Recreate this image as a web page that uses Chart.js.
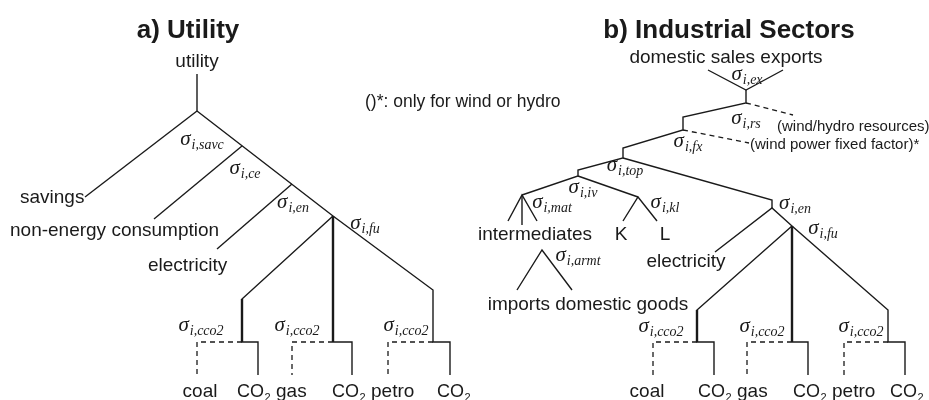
<!DOCTYPE html>
<html><head><meta charset="utf-8">
<script src="https://cdn.jsdelivr.net/npm/chart.js@4.4.1/dist/chart.umd.min.js"></script>
<style>html,body{margin:0;padding:0;background:#fff;overflow:hidden}#wrap{width:929px;height:400px}</style>
</head><body><div id="wrap"><canvas id="c" width="929" height="400"></canvas></div>
<script>
// ---- Diagram data: nested CES trees, node coordinates in diagram units (x 0..929, y 0..400 downward)
// Panel a) Utility
const utilitySolid = [
  [[197,74],[197,111]],
  [[197,111],[85,197]],
  [[197,111],[333,216],[433,290],[433,342],[450,342],[450,375]],
  [[242,146],[154,219]],
  [[292,184],[217,249]],
  [[333,216],[242,299],[242,342],[258,342],[258,375]],
  [[333,342],[352,342],[352,375]]
];
const utilityThick = [
  [[333,216],[333,342]],
  [[242,299],[242,342]]
];
const utilityDashed = [
  [[242,342],[197,342],[197,375]],
  [[333,342],[292,342],[292,375]],
  [[433,342],[388,342],[388,375]]
];
// Panel b) Industrial Sectors
const sectorSolid = [
  [[708,70],[746,90],[783,70]],
  [[746,90],[746,103],[683,117],[683,130],[623,148],[623,158],[578,170],[578,176],[522,195]],
  [[578,176],[638,197]],
  [[508,221],[522,195],[537,221]],
  [[522,195],[522,225]],
  [[623,221],[638,197],[657,221]],
  [[517,290],[542,250],[572,290]],
  [[623,158],[772,200],[772,208]],
  [[715,252],[772,208],[792,226],[888,310],[888,342],[905,342],[905,375]],
  [[792,226],[697,310],[697,342],[714,342],[714,375]],
  [[792,342],[808,342],[808,375]]
];
const sectorThick = [
  [[792,226],[792,342]],
  [[697,310],[697,342]]
];
const sectorDashed = [
  [[746,103],[793,115]],
  [[683,130],[749,143]],
  [[697,342],[653,342],[653,375]],
  [[792,342],[747,342],[747,375]],
  [[888,342],[844,342],[844,375]]
];
// Labels
const titles = [["a)", "Utility", 188, 38], ["b)", "Industrial Sectors", 729, 38]];
const nodeLabels = [
  ["utility", 197, 62, "center"],
  ["savings", 20, 198, "left"],
  ["non-energy consumption", 10, 231, "left"],
  ["electricity", 148, 266, "left"],
  ["domestic sales exports", 726, 58, "center"],
  ["intermediates", 535, 235, "center"],
  ["K", 621, 235, "center"],
  ["L", 665, 235, "center"],
  ["electricity", 686, 262, "center"],
  ["imports domestic goods", 588, 305, "center"]
];
const bottomLabels = [
  ["coal", 200, "center"], ["CO2", 237, "left"], ["gas", 276, "left"],
  ["CO2", 332, "left"], ["petro", 371, "left"], ["CO2", 437, "left"],
  ["coal", 647, "center"], ["CO2", 698, "left"], ["gas", 737, "left"],
  ["CO2", 793, "left"], ["petro", 832, "left"], ["CO2", 890, "left"]
];
const noteLabels = [
  ["()*: only for wind or hydro", 365, 102, "big"],
  ["(wind/hydro resources)*", 777, 127, "small"],
  ["(wind power fixed factor)*", 750, 145, "small"]
];
const sigmaLabels = [
  ["i,savc", 202, 142], ["i,ce", 245, 171], ["i,en", 293, 205], ["i,fu", 365, 226],
  ["i,cco2", 201, 328], ["i,cco2", 297, 328], ["i,cco2", 406, 328],
  ["i,ex", 747, 77], ["i,rs", 746, 121], ["i,fx", 688, 144], ["i,top", 625, 168],
  ["i,iv", 583, 190], ["i,mat", 552, 205], ["i,kl", 665, 205], ["i,armt", 578, 258],
  ["i,en", 795, 206], ["i,fu", 823, 231],
  ["i,cco2", 661, 329], ["i,cco2", 762, 329], ["i,cco2", 861, 329]
];
const bottomBaseline = 397;

// ---- Build datasets
const INK = '#1a1a1a';
function mk(paths, width, dash){
  return paths.map(p => ({
    data: p.map(([x,y]) => ({x, y})),
    showLine: true, borderColor: INK, backgroundColor: INK,
    borderWidth: width, borderDash: dash, pointRadius: 0, fill: false, tension: 0,
    borderCapStyle: 'butt', borderJoinStyle: 'miter'
  }));
}
const datasets = [
  ...mk(utilitySolid, 1.4, []), ...mk(utilityThick, 2.4, []), ...mk(utilityDashed, 1.3, [5,4]),
  ...mk(sectorSolid, 1.4, []), ...mk(sectorThick, 2.4, []), ...mk(sectorDashed, 1.3, [5,4])
];

const SANS = '"Liberation Sans", Arial, Helvetica, sans-serif';
const SERIF = '"Liberation Serif", "DejaVu Serif", serif';

const labelPlugin = {
  id: 'diagramLabels',
  afterDatasetsDraw(chart){
    const ctx = chart.ctx, sx = chart.scales.x, sy = chart.scales.y;
    const X = v => sx.getPixelForValue(v), Y = v => sy.getPixelForValue(v);
    ctx.save();
    ctx.fillStyle = INK;
    titles.forEach(([pre, txt, cx, by]) => {
      ctx.font = 'bold 26px ' + SANS;
      ctx.textBaseline = 'alphabetic';
      const full = pre + ' ' + txt;
      const w = ctx.measureText(full).width;
      ctx.textAlign = 'left';
      ctx.fillText(full, X(cx) - w/2, Y(by));
    });
    ctx.font = '19px ' + SANS;
    ctx.textBaseline = 'middle';
    nodeLabels.forEach(([t, x, y, al]) => { ctx.textAlign = al; ctx.fillText(t, X(x), Y(y)); });
    bottomLabels.forEach(([t, x, al]) => {
      ctx.textBaseline = 'alphabetic';
      if (t === 'CO2') {
        ctx.font = '18px ' + SANS; ctx.textAlign = 'left';
        ctx.fillText('CO', X(x), Y(bottomBaseline));
        const w = ctx.measureText('CO').width;
        ctx.font = '11px ' + SANS;
        ctx.fillText('2', X(x) + w + 0.5, Y(bottomBaseline) + 4);
      } else {
        ctx.font = '19px ' + SANS; ctx.textAlign = al;
        ctx.fillText(t, X(x), Y(bottomBaseline));
      }
    });
    noteLabels.forEach(([t, x, y, kind]) => {
      ctx.font = (kind === 'big' ? '17.5px ' : '15px ') + SANS;
      ctx.textAlign = 'left'; ctx.textBaseline = 'middle';
      ctx.fillText(t, X(x), Y(y));
    });
    sigmaLabels.forEach(([sub, cx, cy]) => {
      ctx.textAlign = 'left'; ctx.textBaseline = 'alphabetic';
      ctx.font = 'italic 21px ' + SERIF;
      const w1 = ctx.measureText('σ').width;
      ctx.font = 'italic 14px ' + SERIF;
      const w2 = ctx.measureText(sub).width;
      const x0 = X(cx) - (w1 + w2 + 1)/2;
      ctx.font = 'italic 21px ' + SERIF;
      ctx.fillText('σ', x0, Y(cy) + 3);
      ctx.font = 'italic 14px ' + SERIF;
      ctx.fillText(sub, x0 + w1 + 1, Y(cy) + 7);
    });
    ctx.restore();
  }
};

new Chart(document.getElementById('c'), {
  type: 'scatter',
  data: { datasets },
  options: {
    responsive: false, animation: false, events: [],
    layout: { padding: 0 },
    plugins: { legend: { display: false }, tooltip: { enabled: false } },
    scales: {
      x: { type: 'linear', min: 0, max: 929, display: false },
      y: { type: 'linear', min: 0, max: 400, reverse: true, display: false }
    }
  },
  plugins: [labelPlugin]
});
</script></body></html>
